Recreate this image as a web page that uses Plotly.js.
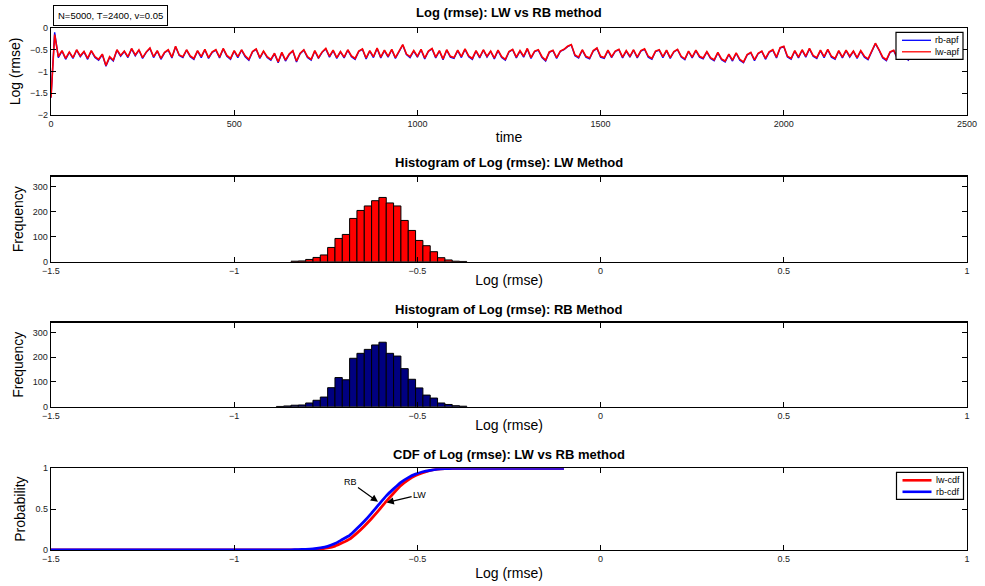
<!DOCTYPE html>
<html>
<head>
<meta charset="utf-8">
<script src="https://cdn.plot.ly/plotly-3.0.1.min.js"></script>
<style>html,body{margin:0;padding:0;background:#fff;}#chart{width:985px;height:586px;}</style>
</head>
<body>
<div id="chart"></div>
<script>
// ---- Panel 1: log(rmse) time series, sampled every 10 steps (t = 0..2400)
const timeStart = 0;
const timeStep = 10;
const lwApf = [
 -1.6,-0.15,-0.66,-0.52,-0.7,-0.55,-0.68,-0.5,-0.64,-0.54,-0.7,-0.52,-0.66,-0.72,-0.6,-0.86,-0.66,-0.74,-0.5,-0.63,
 -0.53,-0.66,-0.47,-0.62,-0.5,-0.68,-0.55,-0.46,-0.66,-0.52,-0.7,-0.56,-0.5,-0.67,-0.42,-0.62,-0.66,-0.5,-0.64,-0.7,
 -0.52,-0.66,-0.49,-0.68,-0.55,-0.5,-0.67,-0.47,-0.63,-0.7,-0.52,-0.66,-0.5,-0.64,-0.72,-0.54,-0.48,-0.68,-0.53,-0.66,
 -0.72,-0.58,-0.78,-0.56,-0.74,-0.6,-0.52,-0.76,-0.58,-0.5,-0.66,-0.72,-0.52,-0.68,-0.55,-0.47,-0.65,-0.51,-0.68,-0.54,
 -0.67,-0.5,-0.64,-0.7,-0.53,-0.48,-0.69,-0.52,-0.66,-0.46,-0.67,-0.51,-0.65,-0.49,-0.68,-0.53,-0.38,-0.6,-0.66,-0.52,
 -0.65,-0.49,-0.69,-0.53,-0.47,-0.67,-0.52,-0.71,-0.5,-0.65,-0.68,-0.51,-0.66,-0.48,-0.64,-0.7,-0.52,-0.67,-0.5,-0.65,
 -0.53,-0.69,-0.51,-0.66,-0.72,-0.54,-0.49,-0.67,-0.52,-0.65,-0.47,-0.68,-0.53,-0.5,-0.66,-0.74,-0.55,-0.51,-0.68,-0.53,
 -0.49,-0.42,-0.38,-0.62,-0.67,-0.5,-0.65,-0.69,-0.52,-0.46,-0.65,-0.68,-0.51,-0.66,-0.53,-0.49,-0.67,-0.52,-0.65,-0.5,
 -0.67,-0.52,-0.48,-0.65,-0.7,-0.53,-0.5,-0.66,-0.51,-0.68,-0.54,-0.49,-0.65,-0.71,-0.53,-0.67,-0.51,-0.65,-0.69,-0.54,
 -0.68,-0.73,-0.56,-0.71,-0.76,-0.6,-0.74,-0.57,-0.72,-0.78,-0.61,-0.56,-0.73,-0.58,-0.53,-0.7,-0.55,-0.5,-0.67,-0.45,
 -0.42,-0.65,-0.7,-0.52,-0.67,-0.5,-0.65,-0.47,-0.63,-0.68,-0.51,-0.66,-0.49,-0.65,-0.7,-0.52,-0.67,-0.51,-0.65,-0.53,
 -0.68,-0.52,-0.65,-0.71,-0.53,-0.35,-0.5,-0.67,-0.73,-0.55,-0.51,-0.68,-0.53,-0.66,-0.72,-0.55,-0.69,-0.52,-0.67,-0.54,
 -0.62
];
const rbApf = [
 -1.6,-0.1,-0.68,-0.53,-0.72,-0.56,-0.7,-0.51,-0.66,-0.55,-0.72,-0.53,-0.68,-0.74,-0.61,-0.88,-0.68,-0.76,-0.51,-0.65,
 -0.54,-0.68,-0.48,-0.64,-0.51,-0.7,-0.56,-0.47,-0.68,-0.53,-0.72,-0.57,-0.51,-0.69,-0.43,-0.63,-0.68,-0.51,-0.66,-0.72,
 -0.53,-0.68,-0.5,-0.7,-0.56,-0.51,-0.69,-0.48,-0.65,-0.72,-0.53,-0.68,-0.51,-0.66,-0.74,-0.55,-0.49,-0.7,-0.54,-0.68,
 -0.74,-0.59,-0.8,-0.57,-0.76,-0.61,-0.53,-0.78,-0.59,-0.51,-0.68,-0.74,-0.53,-0.7,-0.56,-0.48,-0.67,-0.52,-0.7,-0.55,
 -0.69,-0.51,-0.66,-0.72,-0.54,-0.49,-0.71,-0.53,-0.68,-0.47,-0.69,-0.52,-0.67,-0.5,-0.7,-0.54,-0.39,-0.61,-0.68,-0.53,
 -0.67,-0.5,-0.71,-0.54,-0.48,-0.69,-0.53,-0.73,-0.51,-0.67,-0.7,-0.52,-0.68,-0.49,-0.66,-0.72,-0.53,-0.69,-0.51,-0.67,
 -0.54,-0.71,-0.52,-0.68,-0.74,-0.55,-0.5,-0.69,-0.53,-0.67,-0.48,-0.7,-0.54,-0.51,-0.68,-0.76,-0.56,-0.52,-0.7,-0.54,
 -0.5,-0.43,-0.39,-0.64,-0.69,-0.51,-0.67,-0.71,-0.53,-0.47,-0.67,-0.7,-0.52,-0.68,-0.54,-0.5,-0.69,-0.53,-0.67,-0.51,
 -0.69,-0.53,-0.49,-0.67,-0.72,-0.54,-0.51,-0.68,-0.52,-0.7,-0.55,-0.5,-0.67,-0.73,-0.54,-0.69,-0.52,-0.67,-0.71,-0.55,
 -0.7,-0.75,-0.57,-0.73,-0.78,-0.61,-0.76,-0.58,-0.74,-0.8,-0.62,-0.57,-0.75,-0.59,-0.54,-0.72,-0.56,-0.51,-0.69,-0.46,
 -0.43,-0.67,-0.72,-0.53,-0.69,-0.51,-0.67,-0.48,-0.65,-0.7,-0.52,-0.68,-0.5,-0.67,-0.72,-0.53,-0.69,-0.52,-0.67,-0.54,
 -0.7,-0.53,-0.67,-0.73,-0.54,-0.36,-0.51,-0.69,-0.75,-0.56,-0.52,-0.7,-0.54,-0.68,-0.74,-0.56,-0.71,-0.53,-0.69,-0.55,
 -0.63
];

// ---- Panel 2: histogram of LW log(rmse) (bin centres, counts)
const lwBinCenters = [-0.835,-0.815,-0.795,-0.775,-0.755,-0.735,-0.715,-0.695,-0.675,-0.655,-0.635,-0.615,-0.595,-0.575,-0.555,-0.535,-0.515,-0.495,-0.475,-0.455,-0.435,-0.415,-0.395,-0.375];
const lwCounts     = [2,3,9,17,27,57,93,109,173,205,223,244,257,235,223,165,125,85,64,40,16,7,2,1];

// ---- Panel 3: histogram of RB log(rmse)
const rbBinCenters = [-0.875,-0.855,-0.835,-0.815,-0.795,-0.775,-0.755,-0.735,-0.715,-0.695,-0.675,-0.655,-0.635,-0.615,-0.595,-0.575,-0.555,-0.535,-0.515,-0.495,-0.475,-0.455,-0.435,-0.415,-0.395,-0.375];
const rbCounts     = [1,3,6,7,15,26,39,77,118,109,196,216,232,250,261,216,205,154,111,76,47,35,15,9,4,2];

// ---- Panel 4: empirical CDFs
const lwCdfX = [-1.5,-0.825,-0.805,-0.785,-0.765,-0.745,-0.725,-0.705,-0.685,-0.665,-0.645,-0.625,-0.605,-0.585,-0.565,-0.545,-0.525,-0.505,-0.485,-0.465,-0.445,-0.425,-0.405,-0.385,-0.1];
const lwCdfY = [0,0,0.002,0.006,0.013,0.025,0.048,0.088,0.134,0.207,0.292,0.386,0.488,0.596,0.695,0.789,0.858,0.911,0.946,0.973,0.989,0.996,0.999,1,1];
const rbCdfX = [-1.5,-0.865,-0.845,-0.825,-0.805,-0.785,-0.765,-0.745,-0.725,-0.705,-0.685,-0.665,-0.645,-0.625,-0.605,-0.585,-0.565,-0.545,-0.525,-0.505,-0.485,-0.465,-0.445,-0.425,-0.405,-0.385,-0.1];
const rbCdfY = [0,0.001,0.002,0.004,0.008,0.015,0.027,0.045,0.079,0.128,0.178,0.262,0.352,0.452,0.558,0.662,0.748,0.828,0.886,0.929,0.958,0.976,0.989,0.995,0.998,0.999,1];

// ---- Text
const titles = [
  'Log (rmse): LW vs RB method',
  'Histogram of Log (rmse): LW Method',
  'Histogram of Log (rmse): RB Method',
  'CDF of Log (rmse): LW vs RB method'
];
const infoText = 'N=5000, T=2400, v=0.05';
const seriesNames = ['rb-apf', 'lw-apf', 'lw-cdf', 'rb-cdf'];
const seriesColors = ['#0000ff', '#ff0000', '#ff0000', '#0000ff'];

const FONT = 'Liberation Sans, Arial, Helvetica, sans-serif';
const W = 985, H = 586;
const px = (v) => v / W;
const py = (v) => 1 - v / H;

const xDom = [px(51), px(967)];
const dom1 = [py(115), py(28)];
const dom2 = [py(261.7), py(176.7)];
const dom3 = [py(406.7), py(322.7)];
const dom4 = [py(550), py(468.3)];

function axisBase(extra) {
  return Object.assign({
    showgrid: false, zeroline: false, showline: true, linecolor: '#000', linewidth: 1.3,
    mirror: 'allticks', ticks: 'inside', ticklen: 5, tickwidth: 1, tickcolor: '#000',
    tickfont: {family: FONT, size: 9, color: '#222'}, fixedrange: true
  }, extra);
}

const traces = [
  {x0: timeStart, dx: timeStep, y: rbApf, type: 'scatter', mode: 'lines', name: seriesNames[0],
   line: {color: seriesColors[0], width: 1.4}, xaxis: 'x', yaxis: 'y', showlegend: false},
  {x0: timeStart, dx: timeStep, y: lwApf, type: 'scatter', mode: 'lines', name: seriesNames[1],
   line: {color: seriesColors[1], width: 1.6}, xaxis: 'x', yaxis: 'y', showlegend: false},
  {x: lwBinCenters, y: lwCounts, type: 'bar', showlegend: false, width: 0.02,
   marker: {color: '#ff0000', line: {color: '#000', width: 1}}, xaxis: 'x2', yaxis: 'y2'},
  {x: rbBinCenters, y: rbCounts, type: 'bar', showlegend: false, width: 0.02,
   marker: {color: '#000080', line: {color: '#000', width: 1}}, xaxis: 'x3', yaxis: 'y3'},
  {x: lwCdfX, y: lwCdfY, type: 'scatter', mode: 'lines', name: seriesNames[2], showlegend: false,
   line: {color: seriesColors[2], width: 2.8, shape: 'spline', smoothing: 0.5}, xaxis: 'x4', yaxis: 'y4'},
  {x: rbCdfX, y: rbCdfY, type: 'scatter', mode: 'lines', name: seriesNames[3], showlegend: false,
   line: {color: seriesColors[3], width: 2.8, shape: 'spline', smoothing: 0.5}, xaxis: 'x4', yaxis: 'y4'}
];

// Compact MATLAB-style legend boxes (drawn as paper shapes + text)
function legendBox(left, top, names, colors, lw) {
  const shapes = [{type: 'rect', xref: 'paper', yref: 'paper', x0: px(left), x1: px(left + 67),
    y0: py(top + 27), y1: py(top), line: {color: '#000', width: 1.2}, fillcolor: '#fff', layer: 'above'}];
  const anns = [];
  names.forEach((n, i) => {
    const yy = top + 8 + i * 11.5;
    shapes.push({type: 'line', xref: 'paper', yref: 'paper', x0: px(left + 6), x1: px(left + 35),
      y0: py(yy), y1: py(yy), line: {color: colors[i], width: lw}, layer: 'above'});
    anns.push({text: n, xref: 'paper', yref: 'paper', x: px(left + 37), xanchor: 'left', y: py(yy),
      yanchor: 'middle', showarrow: false, font: {family: FONT, size: 9, color: '#000'}});
  });
  return {shapes, anns};
}
const leg1 = legendBox(896, 32.3, [seriesNames[0], seriesNames[1]], [seriesColors[0], seriesColors[1]], 1.3);
const leg2 = legendBox(896.5, 472.3, [seriesNames[2], seriesNames[3]], [seriesColors[2], seriesColors[3]], 2.6);

const axTitleFont = {family: FONT, size: 14, color: '#000'};
const histX = {range: [-1.5, 1], tickvals: [-1.5, -1, -0.5, 0, 0.5, 1]};
const titleFont = {family: FONT, size: 13, color: '#000'};

const layout = {
  width: W, height: H,
  margin: {l: 0, r: 0, t: 0, b: 0},
  paper_bgcolor: '#fff', plot_bgcolor: '#fff',
  font: {family: FONT, color: '#000'},
  bargap: 0,
  showlegend: false,
  xaxis: axisBase({domain: xDom, anchor: 'y', range: [0, 2500], tickvals: [0, 500, 1000, 1500, 2000, 2500],
    title: {text: 'time', font: axTitleFont, standoff: 4}}),
  yaxis: axisBase({domain: dom1, anchor: 'x', range: [-2, 0], tickvals: [-2, -1.5, -1, -0.5, 0],
    title: {text: 'Log (rmse)', font: axTitleFont, standoff: 6}}),
  xaxis2: axisBase(Object.assign({domain: xDom, anchor: 'y2', title: {text: 'Log (rmse)', font: axTitleFont, standoff: 0}}, histX)),
  yaxis2: axisBase({domain: dom2, anchor: 'x2', range: [0, 340], tickvals: [0, 100, 200, 300],
    title: {text: 'Frequency', font: axTitleFont, standoff: 6}}),
  xaxis3: axisBase(Object.assign({domain: xDom, anchor: 'y3', title: {text: 'Log (rmse)', font: axTitleFont, standoff: 0}}, histX)),
  yaxis3: axisBase({domain: dom3, anchor: 'x3', range: [0, 340], tickvals: [0, 100, 200, 300],
    title: {text: 'Frequency', font: axTitleFont, standoff: 6}}),
  xaxis4: axisBase(Object.assign({domain: xDom, anchor: 'y4', title: {text: 'Log (rmse)', font: axTitleFont, standoff: 5}}, histX)),
  yaxis4: axisBase({domain: dom4, anchor: 'x4', range: [0, 1], tickvals: [0, 0.5, 1],
    title: {text: 'Probability', font: axTitleFont, standoff: 6}}),
  shapes: leg1.shapes.concat(leg2.shapes),
  annotations: [
    {text: '<b>' + titles[0] + '</b>', xref: 'paper', yref: 'paper', x: px(509), y: py(13), yanchor: 'middle', showarrow: false, font: titleFont},
    {text: '<b>' + titles[1] + '</b>', xref: 'paper', yref: 'paper', x: px(509), y: py(162), yanchor: 'middle', showarrow: false, font: titleFont},
    {text: '<b>' + titles[2] + '</b>', xref: 'paper', yref: 'paper', x: px(509), y: py(309), yanchor: 'middle', showarrow: false, font: titleFont},
    {text: '<b>' + titles[3] + '</b>', xref: 'paper', yref: 'paper', x: px(509), y: py(454), yanchor: 'middle', showarrow: false, font: titleFont},
    {text: infoText, xref: 'paper', yref: 'paper', x: px(53), xanchor: 'left', y: py(5), yanchor: 'top',
     showarrow: false, bordercolor: '#000', borderwidth: 1, borderpad: 4, bgcolor: '#fff',
     font: {family: FONT, size: 9.5, color: '#000'}},
    {text: 'RB', xref: 'x4', yref: 'y4', x: -0.6075, y: 0.59, ax: -28, ay: -20, showarrow: true,
     arrowhead: 2, arrowsize: 1.2, arrowwidth: 1.2, arrowcolor: '#000', font: {family: FONT, size: 9, color: '#000'}},
    {text: 'LW', xref: 'x4', yref: 'y4', x: -0.584, y: 0.58, ax: 33, ay: -8, showarrow: true,
     arrowhead: 2, arrowsize: 1.2, arrowwidth: 1.2, arrowcolor: '#000', font: {family: FONT, size: 9, color: '#000'}}
  ].concat(leg1.anns, leg2.anns)
};

Plotly.newPlot('chart', traces, layout, {staticPlot: true, displayModeBar: false});
</script>
</body>
</html>
